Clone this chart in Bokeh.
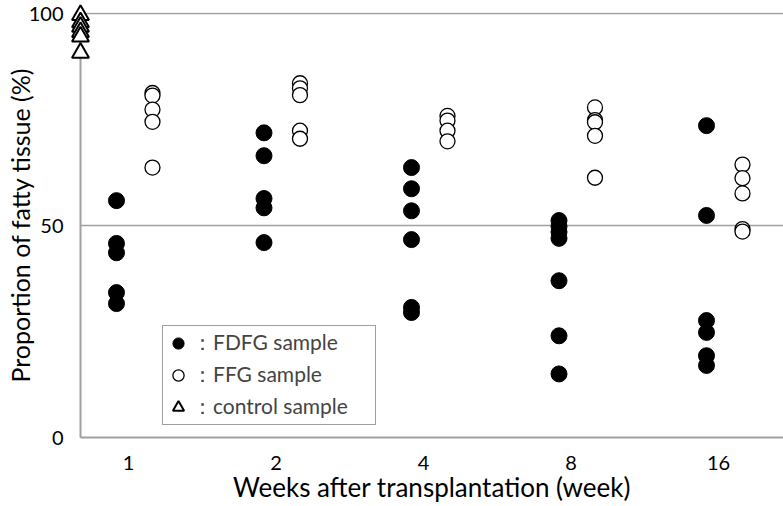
from bokeh.plotting import figure
from bokeh.models import Range1d, FixedTicker, Legend, LegendItem
from bokeh.embed import file_html
from bokeh.resources import INLINE

# Data
weeks = ["1", "2", "4", "8", "16"]
fdfg = [
    [55.9, 45.8, 43.6, 34.2, 31.6],
    [71.9, 66.5, 56.4, 54.2, 46.0],
    [63.7, 58.7, 53.5, 46.7, 30.7, 29.5],
    [51.2, 49.8, 48.5, 47.0, 37.0, 24.0, 15.0],
    [73.6, 52.4, 27.6, 24.8, 19.3, 17.0],
]
ffg = [
    [81.3, 80.7, 77.4, 74.5, 63.7],
    [83.6, 82.4, 80.8, 72.4, 70.5],
    [75.9, 74.8, 72.4, 69.9],
    [77.9, 74.9, 74.4, 71.2, 61.3],
    [64.4, 61.2, 57.6, 49.2, 48.6],
]
control = [99.7, 98.0, 96.9, 95.7, 94.6, 90.8]
y_ticks = [0, 50, 100]
x_title = "Weeks after transplantation (week)"
y_title = "Proportion of fatty tissue (%)"

FONT = "Lato"
GRAY = "#a0a0a0"

x0, x1 = 0.634, 5.400
p = figure(width=783, height=506, output_backend="svg", toolbar_location=None,
           x_range=Range1d(x0, x1), y_range=Range1d(0, 100.3),
           min_border_left=80, min_border_right=0, min_border_top=12, min_border_bottom=69)
p.outline_line_color = None
p.xgrid.grid_line_color = None
p.ygrid.grid_line_color = GRAY
p.ygrid.grid_line_width = 1.5
p.ygrid.ticker = FixedTicker(ticks=y_ticks)

off = 0.122
fx, fy, ox, oy = [], [], [], []
for i, (a, b) in enumerate(zip(fdfg, ffg)):
    fx += [i + 1 - off] * len(a)
    fy += a
    ox += [i + 1 + off] * len(b)
    oy += b

r_f = p.scatter(fx, fy, marker="circle", size=16, fill_color="black", line_color="black")
r_o = p.scatter(ox, oy, marker="circle", size=15, fill_color="white", line_color="black", line_width=1.3)
r_c = p.scatter([x0] * len(control), control, marker="triangle", size=17,
                fill_color="white", line_color="black", line_width=2, level="overlay")

xa = p.xaxis[0]
xa.ticker = FixedTicker(ticks=[i + 1 - 0.04 for i in range(len(weeks))])
xa.major_label_overrides = {i + 1 - 0.04: w for i, w in enumerate(weeks)}
xa.axis_label = x_title
ya = p.yaxis[0]
ya.ticker = FixedTicker(ticks=y_ticks)
ya.axis_label = y_title
for ax in (xa, ya):
    ax.axis_line_color = GRAY
    ax.axis_line_width = 2
    ax.major_tick_line_color = None
    ax.minor_tick_line_color = None
    ax.major_tick_out = 0
    ax.major_tick_in = 0
    ax.minor_tick_out = 0
    ax.major_label_text_font = FONT
    ax.major_label_text_font_size = "20px"
    ax.major_label_text_color = "black"
    ax.axis_label_text_font = FONT
    ax.axis_label_text_font_style = "normal"
    ax.axis_label_text_color = "black"
xa.axis_label_text_font_size = "26px"
ya.axis_label_text_font_size = "25px"
xa.major_label_standoff = 18
xa.axis_label_standoff = -2
ya.major_label_standoff = 17
ya.axis_label_standoff = -9

legend = Legend(items=[
    LegendItem(label="：FDFG sample", renderers=[r_f]),
    LegendItem(label="：FFG sample", renderers=[r_o]),
    LegendItem(label="：control sample", renderers=[r_c]),
], location=(82, 12))
legend.label_text_font = FONT
legend.label_text_font_size = "21px"
legend.label_standoff = 0
legend.glyph_width = 28
legend.glyph_height = 28
legend.label_height = 32
legend.label_width = 182
legend.spacing = 0
legend.padding = 1
legend.margin = 0
legend.border_line_color = "#404040"
legend.border_line_width = 1.5
legend.background_fill_alpha = 1
p.add_layout(legend)

open("out.html", "w").write(file_html(p, INLINE))
